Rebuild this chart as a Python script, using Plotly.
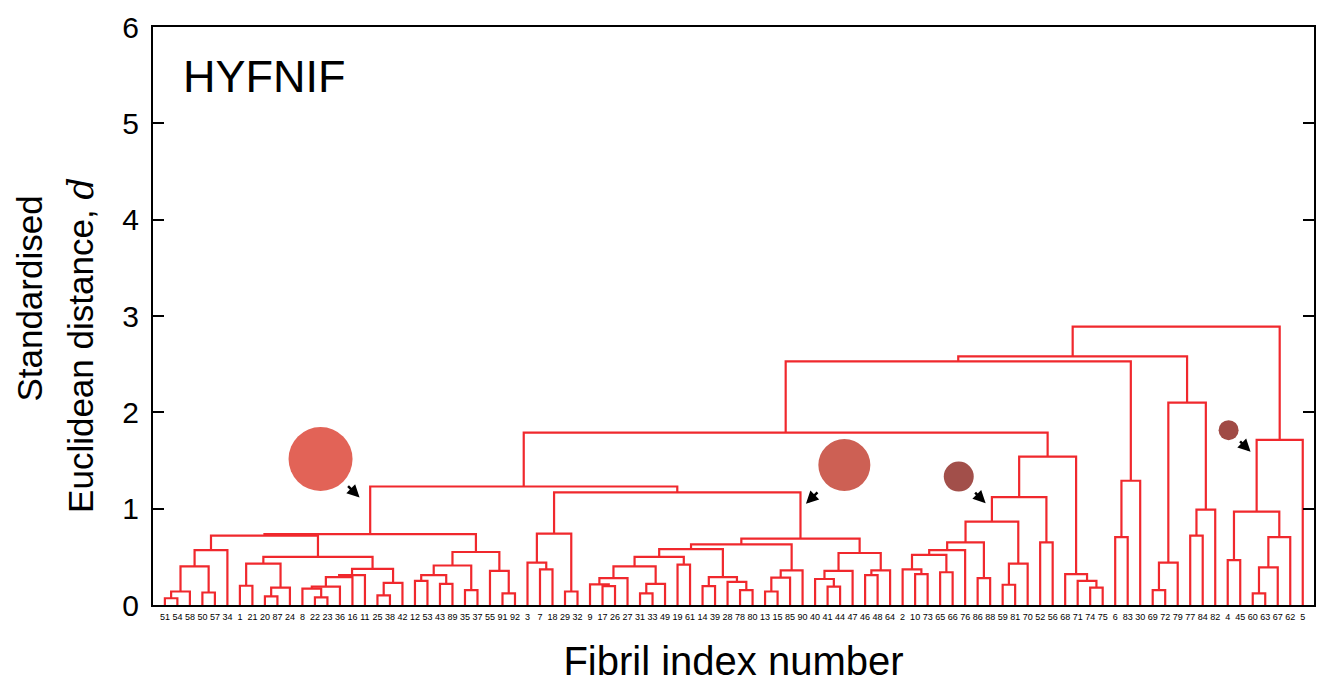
import plotly.graph_objects as go

# Leaf order (fibril index numbers) along the x axis
leaf_labels = [51, 54, 58, 50, 57, 34, 1, 21, 20, 87, 24, 8, 22, 23, 36, 16, 11, 25, 38, 42,
               12, 53, 43, 89, 35, 37, 55, 91, 92, 3, 7, 18, 29, 32, 9, 17, 26, 27, 31, 33,
               49, 19, 61, 14, 39, 28, 78, 80, 13, 15, 85, 90, 40, 41, 44, 47, 46, 48, 64, 2,
               10, 73, 65, 66, 76, 86, 88, 59, 81, 70, 52, 56, 68, 71, 74, 75, 6, 83, 30, 69,
               72, 79, 77, 84, 82, 4, 45, 60, 63, 67, 62, 5]

# Merges: (cluster name, left child, right child, distance d)
merge_names = ["a1", "a2", "a3", "a4", "A", "b1", "b2", "b3", "B", "c1", "c2", "c3", "c4", "c5",
               "c6", "c7", "C", "BC", "ABC", "d1", "d2", "d3", "d4", "d5", "d6", "d7", "D", "L",
               "e1", "e2", "e3", "E", "f1", "f2", "f3", "f4", "f5", "f6", "f7", "f8", "f9", "f10",
               "f11", "f12", "f13", "f14", "f15", "f16", "f17", "g1", "g2", "g3", "g4", "g5", "g6",
               "G", "M", "LM", "h1", "h2", "h3", "h4", "h5", "h6", "h7", "h8", "h9", "h10", "h11",
               "h12", "h13", "h14", "h15", "H", "N", "k1", "K", "NK", "i1", "i2", "i3", "i4", "I",
               "NKI", "j1", "j2", "j3", "j4", "j5", "J", "ROOT"]
merge_left = [51, "a1", 50, "a2", "a4", 1, 20, "b2", "b1", 22, 8, "c2", "c3", "c4",
              25, "c6", "c5", "B", "A", 12, 43, "d1", 35, "d3", 91, 55, "d5", "ABC",
              7, 3, 29, "e2", 17, 9, "f2", 31, "f4", "f3", 19, "f6", 14, 78,
              28, "f9", "f8", 13, "f14", "f15", "f13", 41, 40, "g2", 46, "g4", "g3",
              "f17", "E", "L", 10, 2, 65, "h2", "h4", 86, "h5", 59, "h8", "h7", 52,
              "h10", 74, 71, 68, "h12", "LM", 6, "k1", "N", 69, "i1", 77, "i3", "i2",
              "NK", 4, 60, "j2", "j3", "j1", "j5", "NKI"]
merge_right = [54, 58, 57, "a3", 34, 21, 87, 24, "b3", 23, "c1", 36, 16, 11,
               38, 42, "c7", "C", "BC", 53, 89, "d2", 37, "d4", 92, "d6", "d7", "D",
               18, "e1", 32, "e3", 26, "f1", 27, 33, 49, "f5", 61, "f7", 39, 80,
               "f10", "f11", "f12", 15, 85, 90, "f16", 44, "g1", 47, 48, 64, "g5",
               "g6", "G", "M", 73, "h1", 66, "h3", 76, 88, "h6", 81, 70, "h9", 56,
               "h11", 75, "h13", "h14", "h15", "H", 83, 30, "K", 72, 79, 84, 82, "i4",
               "I", 45, 63, 67, 62, "j4", 5, "J"]
merge_height = [0.07, 0.14, 0.13, 0.40, 0.57, 0.20, 0.09, 0.18, 0.43, 0.08, 0.17, 0.19, 0.29, 0.31,
                0.10, 0.23, 0.375, 0.50, 0.72, 0.25, 0.22, 0.31, 0.155, 0.41, 0.12, 0.355, 0.55, 0.735,
                0.37, 0.44, 0.14, 0.74, 0.195, 0.215, 0.28, 0.12, 0.22, 0.40, 0.42, 0.50, 0.195, 0.155,
                0.24, 0.29, 0.58, 0.14, 0.285, 0.36, 0.63, 0.19, 0.27, 0.355, 0.31, 0.36, 0.54,
                0.69, 1.17, 1.23, 0.32, 0.37, 0.34, 0.52, 0.57, 0.28, 0.65, 0.21, 0.43, 0.865, 0.65,
                1.12, 0.18, 0.25, 0.32, 1.54, 1.79, 0.705, 1.29, 2.53, 0.155, 0.44, 0.72, 0.99, 2.10,
                2.58, 0.465, 0.12, 0.39, 0.705, 0.97, 1.715, 2.89]

y_ticks = [0, 1, 2, 3, 4, 5, 6]

# ---- build dendrogram segments from the merge table ----
pos = {lab: i + 1 for i, lab in enumerate(leaf_labels)}
hgt = {lab: 0.0 for lab in leaf_labels}
xs, ys = [], []
for name, l, r, h in zip(merge_names, merge_left, merge_right, merge_height):
    xl, xr = pos[l], pos[r]
    xs += [xl, xl, xr, xr, None]
    ys += [hgt[l], h, h, hgt[r], None]
    pos[name] = (xl + xr) / 2
    hgt[name] = h

RED = "#F0282D"
FONT = "Liberation Sans, Arial, Helvetica, sans-serif"

fig = go.Figure()
fig.add_trace(go.Scatter(x=xs, y=ys, mode="lines",
                         line=dict(color=RED, width=2.2), hoverinfo="skip",
                         showlegend=False))

fig.update_layout(
    width=1326, height=688,
    margin=dict(l=153, r=10, t=25, b=83),
    paper_bgcolor="white", plot_bgcolor="white",
    font=dict(family=FONT, color="black"),
    showlegend=False,
)
fig.update_xaxes(
    range=[0.05, 92.9], showgrid=False, zeroline=False,
    showline=True, linecolor="black", linewidth=2, mirror=True,
    ticks="", tickmode="array",
    tickvals=[i + 1 for i in range(len(leaf_labels))],
    ticktext=[str(v) for v in leaf_labels],
    tickangle=0, tickfont=dict(size=9, color="black"),
    ticklabelstandoff=2,
    title=dict(text="Fibril index number", font=dict(size=40, color="black"), standoff=26),
)
fig.update_yaxes(
    range=[0, 6], tickmode="array", tickvals=y_ticks,
    showgrid=False, zeroline=False,
    showline=True, linecolor="black", linewidth=2, mirror="ticks",
    ticks="inside", ticklen=11, tickwidth=2, tickcolor="black",
    tickfont=dict(size=30, color="black"), ticklabelstandoff=6,
)

# y title as two rotated lines
fig.add_annotation(text="Standardised", xref="paper", yref="paper",
                   x=-0.106, y=0.53, xanchor="center", yanchor="middle",
                   textangle=-90, showarrow=False, font=dict(size=35, color="black"))
fig.add_annotation(text="Euclidean distance, <span style=\"font-family:'DejaVu Serif',serif;font-style:italic\">d</span>",
                   xref="paper", yref="paper",
                   x=-0.062, y=0.45, xanchor="center", yanchor="middle",
                   textangle=-90, showarrow=False, font=dict(size=35, color="black"))

# panel label
fig.add_annotation(text="HYFNIF", xref="paper", yref="paper",
                   x=0.0245, y=0.915, xanchor="left", yanchor="middle",
                   showarrow=False, font=dict(size=45, color="black"))

# coloured circles (cluster illustrations)
circles = [(13.45, 1.515, 32, "#E26357"),
           (55.34, 1.453, 26, "#CD6054"),
           (64.49, 1.333, 15, "#A24F4A"),
           (86.07, 1.815, 10, "#A04A45")]
for cx, cy, r, col in circles:
    fig.add_shape(type="circle", xref="x", yref="y", xsizemode="pixel", ysizemode="pixel",
                  xanchor=cx, yanchor=cy, x0=-r, x1=r, y0=-r, y1=r,
                  fillcolor=col, line=dict(width=0))

# arrows pointing to the corresponding merges
arrows = [(16.57, 1.115, -13, -13), (52.27, 1.05, 13, -13),
          (66.64, 1.057, -12, -12), (87.83, 1.59, -12, -12)]
for ax_, ay_, dx, dy in arrows:
    fig.add_annotation(x=ax_, y=ay_, xref="x", yref="y", ax=dx, ay=dy, text="",
                       showarrow=True, arrowhead=2, arrowsize=1, arrowwidth=2.5,
                       arrowcolor="black")

fig.write_html("out.html")
